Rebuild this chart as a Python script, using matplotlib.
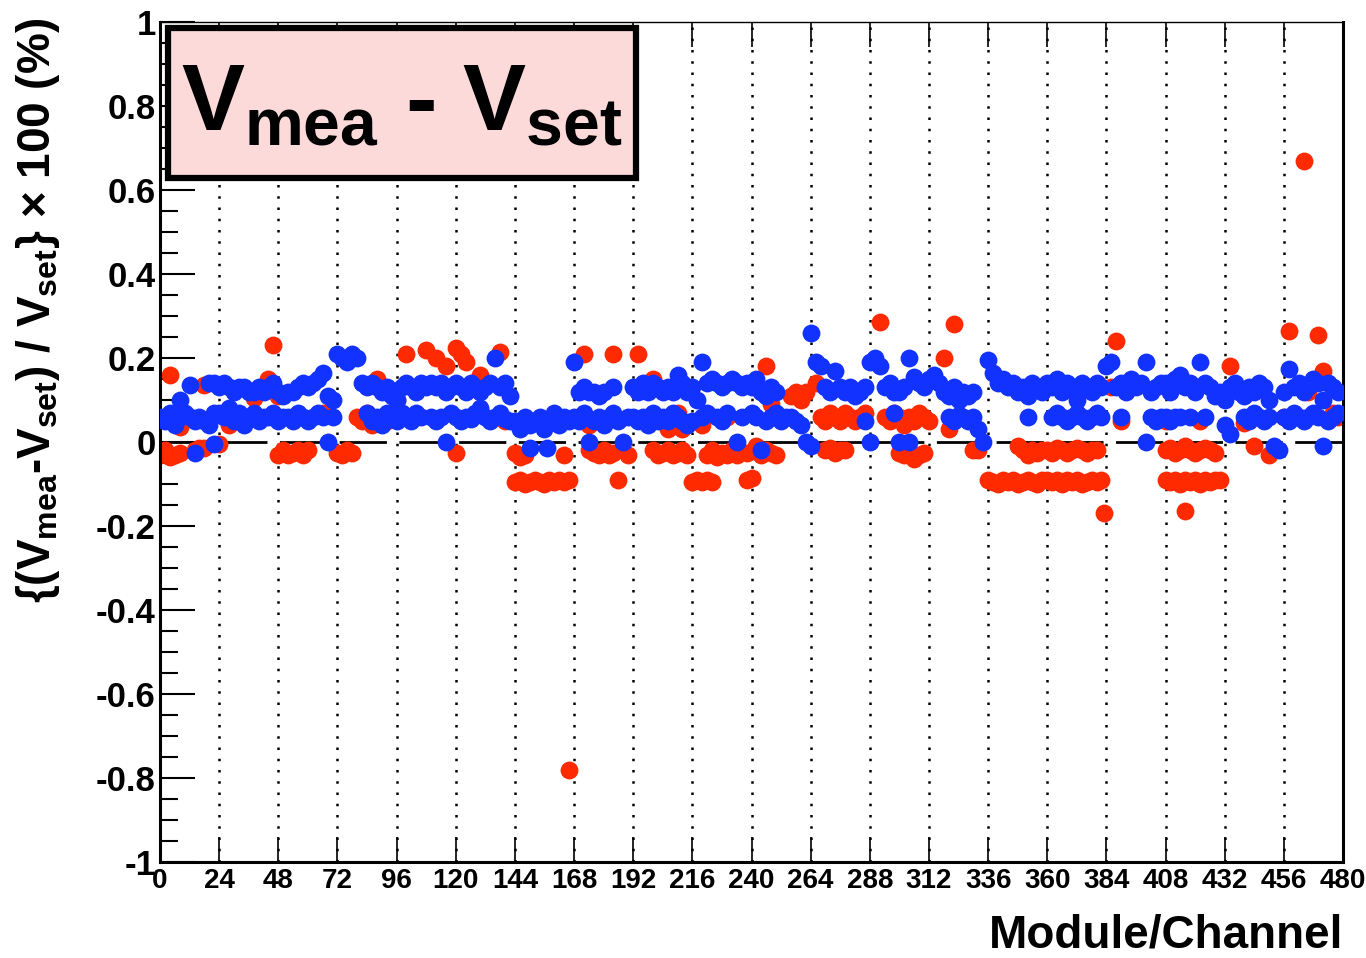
import numpy as np
import matplotlib
matplotlib.use("Agg")
import matplotlib.pyplot as plt
from matplotlib.patches import Rectangle

plt.rcParams['font.family'] = ['Liberation Sans', 'DejaVu Sans']
plt.rcParams['font.weight'] = 'bold'
plt.rcParams['mathtext.fontset'] = 'custom'
plt.rcParams['mathtext.rm'] = 'Liberation Sans:bold'
plt.rcParams['mathtext.it'] = 'Liberation Sans:bold'
plt.rcParams['mathtext.bf'] = 'Liberation Sans:bold'
plt.rcParams['mathtext.sf'] = 'Liberation Sans:bold'

N = np.nan

# channels sampled every 2 (20 modules x 12 samples)
channels = np.arange(0, 480, 2)

# upper blue band (~0.13)
blue_hi = [
    N, N, N, N, .10, N, .135, N, N, N, .14, .14,
    .13, .14, .13, .12, .13, .13, .12, .12, .13, .12, .13, .14,
    .12, .11, .12, .12, .13, .14, .13, .14, .15, .165, .11, .10,
    .21, .20, .19, .21, .20, .14, .13, .14, .13, .12, .13, .11,
    .10, .13, .14, .13, .12, .14, .13, .14, .13, .14, .12, .13,
    .14, .13, .12, .14, .13, .12, .13, .14, .20, .13, .14, .11,
    N, N, N, N, N, N, N, N, N, N, N, N,
    .19, .12, .13, .12, .12, .11, .12, N, .13, N, N, N,
    .13, .12, .14, .12, .14, .13, .12, .13, .12, .16, .14, .12,
    .13, .10, .19, .14, .15, .14, .13, .14, .15, .14, .13, .14,
    .13, .15, .12, .11, .13, .12, N, N, N, N, N, N,
    .26, .19, .18, .13, .12, .17, .13, .12, .13, .11, .12, .13,
    .19, .20, .18, .13, .14, .12, .12, .13, .20, .155, .14, .13,
    .15, .16, .14, .12, .11, .13, .10, .12, .11, .12, N, N,
    .195, .165, .14, .15, .13, .14, .12, .13, .11, .14, .13, .12,
    .14, .13, .15, .12, .14, .13, .10, .14, .13, .12, .14, .13,
    .18, .19, .13, .14, .12, .15, .13, .14, .19, .12, .13, .14,
    .14, .12, .15, .16, .13, .14, .12, .19, .14, .13, .11, .12,
    .10, .13, .14, .12, .11, .13, .12, .14, .13, .10, N, N,
    .12, .175, .13, .14, .12, .13, .15, .14, .10, .14, .13, .12,
]

# lower blue band (~0.06)
blue_lo = [
    .06, .05, .07, .04, .06, .07, .06, .05, .06, .05, .04, .07,
    .07, .06, .08, .05, .07, .04, .06, .07, .05, .06, .06, .07,
    .05, .06, .06, .05, .07, .06, .05, .06, .07, .06, .00, .06,
    N, N, N, N, N, N, .07, .05, .06, .04, .07, .06,
    .05, .07, .06, .05, .07, .06, N, .06, .05, .06, .00, .07,
    .06, .05, .06, .055, .07, .08, .06, .05, .06, .07, .055, .05,
    .05, .03, .06, .04, .05, .06, .03, .05, .07, .04, .06, .05,
    .06, .05, .07, .00, .05, .06, .04, .06, .07, .05, .00, .06,
    .06, .05, .06, .04, .07, .05, .06, .05, .07, .06, .05, .04,
    .05, N, .06, .07, N, .06, .05, .07, N, .00, .06, N,
    .07, .06, -.02, .05, .06, .07, .05, .06, .06, .05, .04, .00,
    -.01, N, N, N, N, N, N, N, N, N, N, .05,
    .00, N, N, N, N, .07, .00, N, .00, N, N, N,
    N, N, N, N, .06, .05, .065, .06, .05, .06, .03, .00,
    N, N, N, N, N, N, N, N, .06, N, N, N,
    N, .06, .07, .06, .05, .06, .07, .06, .05, .06, .07, .06,
    N, N, N, .06, N, N, N, N, .00, .06, .05, .06,
    .06, .05, .06, .06, N, .06, N, N, .06, N, N, N,
    .04, .02, N, N, .06, .05, .07, .06, .05, .06, -.01, -.02,
    .06, .05, .07, .06, .05, .06, .07, .06, -.01, .05, .06, .07,
]

# scattered red points above zero
red_hi = [
    N, N, .16, N, .035, N, N, N, N, .135, N, N,
    N, N, .04, N, N, N, .06, .105, N, N, .15, .23,
    .11, N, N, N, N, N, N, N, N, .07, N, N,
    N, N, N, N, .06, .05, .07, .04, .15, .06, .05, N,
    .10, N, .21, N, N, N, .22, N, .20, N, .18, N,
    .225, .21, .19, N, N, .16, N, N, N, .215, .05, N,
    N, N, N, N, N, N, N, N, N, N, N, N,
    N, N, .21, .04, N, N, N, N, .21, N, N, N,
    N, .21, N, N, .15, N, N, .03, N, .07, .03, N,
    N, N, .04, N, N, N, N, .06, N, N, N, N,
    N, N, N, .18, .09, N, N, N, .11, .12, .10, .12,
    N, .14, .06, .05, .07, .06, .05, .07, .06, .05, .06, .07,
    N, N, .285, .06, .05, .07, .06, .04, .06, .05, .07, .06,
    .05, N, N, .20, .03, .28, .06, N, N, N, N, N,
    N, N, N, N, N, N, N, N, N, N, N, N,
    N, N, N, N, N, N, N, N, N, N, N, N,
    N, .13, .24, .05, N, N, N, N, N, N, N, N,
    .05, N, N, N, N, N, N, .05, N, N, N, N,
    N, .18, N, N, .045, N, N, N, N, N, N, N,
    .06, .265, N, .13, N, .12, N, .255, .17, .14, .07, .06,
]

# red band just below zero (~-0.03)
red_mid = [
    -.03, -.02, -.035, -.03, -.025, N, N, -.02, -.015, -.015, N, N,
    -.005, N, N, N, N, N, N, N, N, N, N, N,
    -.03, -.02, -.03, -.025, -.02, -.03, -.02, N, N, N, N, N,
    -.025, -.03, -.02, -.025, N, N, N, N, N, N, N, N,
    N, N, N, N, N, N, N, N, N, N, N, N,
    -.025, N, N, N, N, N, N, N, N, N, N, N,
    -.025, -.035, -.03, N, N, N, N, N, N, N, -.03, N,
    N, N, N, -.02, -.025, -.03, -.02, -.03, -.025, N, -.02, -.03,
    N, N, N, N, -.02, -.03, -.025, -.02, -.03, -.025, -.02, -.03,
    N, N, N, -.03, -.02, -.035, -.025, -.03, -.02, -.03, N, -.025,
    N, -.01, -.03, -.02, -.025, -.03, N, N, N, N, N, N,
    N, N, N, -.02, -.015, -.025, -.02, -.02, N, N, N, N,
    N, N, N, N, N, N, -.025, -.03, -.02, -.04, -.03, -.025,
    N, N, N, N, N, N, N, N, N, -.02, -.02, N,
    N, N, N, N, N, N, -.01, -.02, -.03, -.02, -.025, -.02,
    -.02, -.025, -.015, -.02, -.025, -.02, -.015, -.02, -.025, -.02, -.02, N,
    N, N, N, N, N, N, N, N, N, N, N, N,
    -.02, -.015, -.025, -.02, -.01, -.02, -.025, -.02, -.015, -.02, -.025, N,
    N, N, N, N, N, N, -.01, N, N, -.03, N, N,
    N, N, N, N, N, N, N, N, N, N, N, N,
]

# red band near -0.09
red_lo = [N] * 72 + [
    -.095, -.09, -.10, -.095, -.09, -.095, -.10, -.09, -.095, -.09, -.095, -.09,
    N, N, N, N, N, N, N, N, N, -.09, N, N,
    N, N, N, N, N, N, N, N, N, N, N, N,
    -.095, -.09, -.095, -.09, -.095, N, N, N, N, N, N, -.09,
    -.085, N, N, N, N, N, N, N, N, N, N, N,
] + [N] * 36 + [
    -.09, -.095, -.10, -.09, -.095, -.09, -.10, -.095, -.09, -.095, -.10, -.09,
    -.09, -.095, -.09, -.10, -.09, -.095, -.09, -.10, -.095, -.09, -.095, -.09,
    N, N, N, N, N, N, N, N, N, N, N, N,
    -.09, -.095, -.09, -.10, -.09, -.095, -.09, -.10, -.09, -.095, -.09, -.09,
] + [N] * 24

# single points off the bands
red_out_ch = [166, 383, 416, 464]
red_out_val = [-0.78, -0.17, -0.165, 0.67]
blue_out_ch = [14, 22, 150, 157]
blue_out_val = [-0.025, -0.005, -0.015, -0.015]

y_ticks = [-1, -0.8, -0.6, -0.4, -0.2, 0, 0.2, 0.4, 0.6, 0.8, 1]
y_labels = ['-1', '-0.8', '-0.6', '-0.4', '-0.2', '0', '0.2', '0.4', '0.6', '0.8', '1']
x_ticks = list(range(0, 481, 24))

red_color = '#ff2a00'
blue_color = '#1232ff'

fig = plt.figure(figsize=(13.66, 9.58), dpi=100)
ax = fig.add_axes([160 / 1366, 1 - 862 / 958, 1183 / 1366, 840 / 958])

for xg in x_ticks[1:-1]:
    ax.axvline(xg, color='black', lw=1.8, ls=(0, (1, 3.5)), zorder=1)
ax.axhline(0, color='black', lw=2, dashes=(17, 4.5), zorder=1)

ms = 165
for vals in (red_hi, red_mid, red_lo):
    ax.scatter(channels, vals, s=ms, color=red_color, linewidths=0, zorder=2)
ax.scatter(red_out_ch, red_out_val, s=ms, color=red_color, linewidths=0, zorder=2)
for vals in (blue_lo, blue_hi):
    ax.scatter(channels, vals, s=ms, color=blue_color, linewidths=0, zorder=3)
ax.scatter(blue_out_ch, blue_out_val, s=ms, color=blue_color, linewidths=0, zorder=3)

ax.set_xlim(0, 480)
ax.set_ylim(-1, 1)

ax.set_yticks(y_ticks)
ax.set_yticklabels(y_labels)
ax.set_yticks(np.arange(-1, 1.001, 0.05), minor=True)
ax.set_xticks(x_ticks)
ax.set_xticklabels([str(v) for v in x_ticks])

ax.tick_params(axis='y', which='major', direction='in', length=25, width=1.5,
               labelsize=25, pad=3, right=False)
ax.tick_params(axis='y', which='minor', direction='in', length=13, width=1.5, right=False)
ax.tick_params(axis='x', which='major', direction='in', length=18, width=1.2,
               labelsize=20, pad=4, top=True)
for lab in ax.get_xticklabels() + ax.get_yticklabels():
    lab.set_fontweight('bold')

for side, w in (('left', 2.2), ('bottom', 2.2), ('right', 2.2), ('top', 1.0)):
    ax.spines[side].set_linewidth(w)

fig.text(38 / 1366, 1 - 18 / 958,
         r'$\{(V_{mea}$-$V_{set})$ / $V_{set}\}$ × 100 (%)',
         rotation=90, ha='center', va='top', fontsize=33, fontweight='bold')
fig.text(1343 / 1366, 1 - 935 / 958, 'Module/Channel',
         ha='right', va='center', fontsize=33, fontweight='bold')

box = Rectangle((168 / 1366, 1 - 178 / 958), 468 / 1366, 150 / 958,
                transform=fig.transFigure, facecolor='#fddada',
                edgecolor='black', linewidth=4.5, zorder=5)
fig.patches.append(box)
fig.text(402 / 1366, 1 - 131 / 958, r'$V_{mea}$ - $V_{set}$',
         ha='center', va='baseline', fontsize=68, fontweight='bold', zorder=6)

fig.savefig('out.png', dpi=100)
